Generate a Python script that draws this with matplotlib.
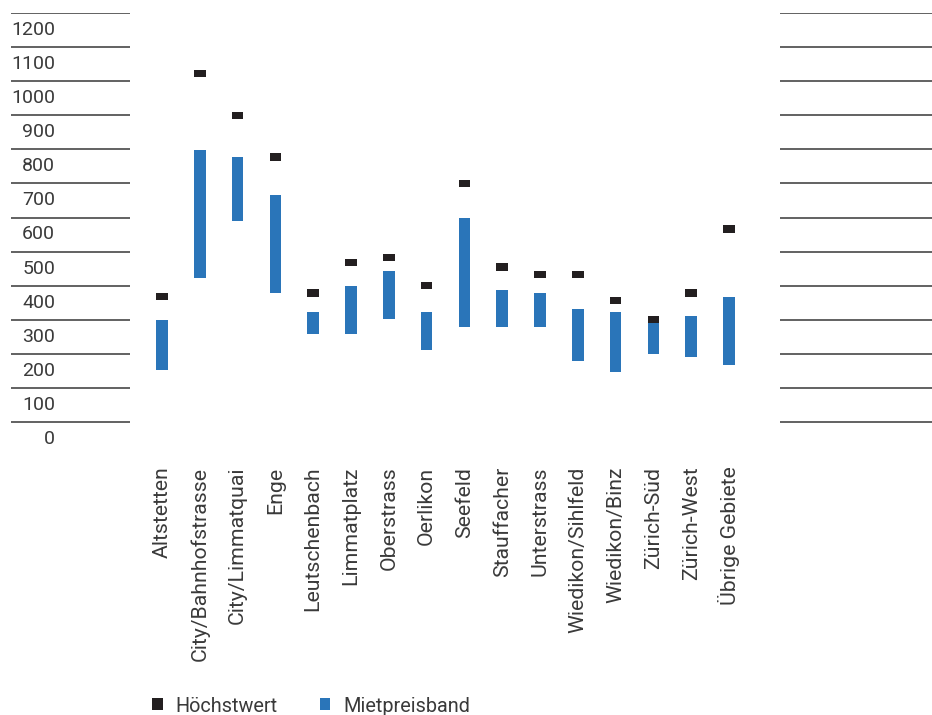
import matplotlib
matplotlib.use("Agg")
import matplotlib.pyplot as plt
from matplotlib.patches import Patch
import numpy as np

categories = ["Altstetten", "City/Bahnhofstrasse", "City/Limmatquai", "Enge",
              "Leutschenbach", "Limmatplatz", "Oberstrass", "Oerlikon", "Seefeld",
              "Stauffacher", "Unterstrass", "Wiedikon/Sihlfeld", "Wiedikon/Binz",
              "Zürich-Süd", "Zürich-West", "Übrige Gebiete"]
band_low = [196, 467, 634, 422, 301, 301, 345, 255, 322, 322, 322, 222, 189, 244, 233, 211]
band_high = [343, 842, 822, 710, 366, 444, 488, 366, 644, 432, 421, 376, 366, 333, 355, 411]
hoechstwert = [411, 1067, 944, 822, 422, 511, 527, 444, 743, 499, 477, 477, 400, 344, 422, 610]
y_ticks = list(range(0, 1300, 100))

BLUE = "#2a75b9"
DARK = "#231f20"
TEXT = "#3a3a3a"
GRID = "#474747"

plt.rcParams['font.family'] = ['Roboto', 'DejaVu Sans']

W, H = 932, 715
fig = plt.figure(figsize=(W / 100, H / 100), dpi=100)

# axes geometry in pixels
ax_left_px, ax_right_px = 10, 932
ax_top_px, ax_bot_px = 13.3, 436.7
ax = fig.add_axes([ax_left_px / W, 1 - ax_bot_px / H,
                   (ax_right_px - ax_left_px) / W, (ax_bot_px - ax_top_px) / H])

x0_px, step_px = 162, 37.8
ax.set_xlim((ax_left_px - x0_px) / step_px, (ax_right_px - x0_px) / step_px)
ax.set_ylim(0, 1244)

x = np.arange(len(categories))
low = np.array(band_low)
high = np.array(band_high)
hv = np.array(hoechstwert)

bar_w = 11.5 / step_px
ax.bar(x, high - low, bottom=low, width=bar_w, color=BLUE, zorder=3)
mark_h = 21.5
ax.bar(x, mark_h, bottom=hv - mark_h / 2, width=bar_w, color=DARK, zorder=4)

# separator lines on left and right sides
grid_vals = [v + 44 for v in y_ticks]
lx0 = (11 - x0_px) / step_px
lx1 = (130 - x0_px) / step_px
rx0 = (780 - x0_px) / step_px
rx1 = (932 - x0_px) / step_px
ax.hlines(grid_vals, lx0, lx1, color=GRID, lw=1.2, zorder=1)
ax.hlines(grid_vals, rx0, rx1, color=GRID, lw=1.2, zorder=1)

for s in ax.spines.values():
    s.set_visible(False)

ax.set_yticks(y_ticks)
ax.set_yticklabels([str(v) for v in y_ticks])
ax.tick_params(axis='y', length=0, pad=-(55 - ax_left_px) * 0.72,
               labelsize=14, labelcolor=TEXT)
ax.set_xticks(x)
ax.set_xticklabels(categories, rotation=90, va='top', ha='center')
ax.tick_params(axis='x', length=0, pad=30 * 0.72, labelsize=15.3, labelcolor=TEXT)

handles = [Patch(facecolor=DARK, label="Höchstwert"),
           Patch(facecolor=BLUE, label="Mietpreisband")]
leg = fig.legend(handles=handles, loc='center left',
                 bbox_to_anchor=(134 / W, 1 - 706 / H), ncol=2, frameon=False,
                 handlelength=0.55, handleheight=0.55, handletextpad=0.65,
                 columnspacing=2.1, fontsize=14.3, labelcolor=TEXT)

fig.savefig("out.png", dpi=100)
